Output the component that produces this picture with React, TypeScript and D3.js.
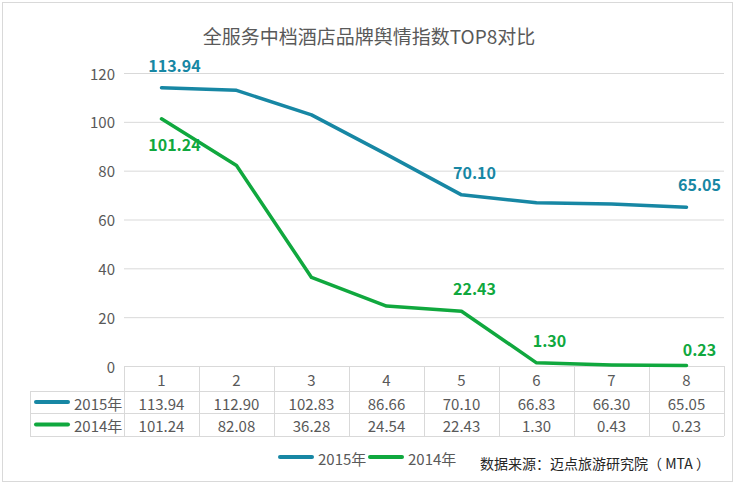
import React from 'react';
import * as d3 from 'd3';

const categories = ['1', '2', '3', '4', '5', '6', '7', '8'];
const series2015 = [113.94, 112.9, 102.83, 86.66, 70.1, 66.83, 66.3, 65.05];
const series2014 = [101.24, 82.08, 36.28, 24.54, 22.43, 1.3, 0.43, 0.23];
const yTicks = [0, 20, 40, 60, 80, 100, 120];
const seriesNames = ['2015年', '2014年'];
const colors = ['#1787a4', '#10a83e'];
// which points get a value label
const labeled2015 = [0, 4, 7];
const labeled2014 = [0, 4, 5, 7];

const W = 737;
const H = 485;
const FONT = '"Noto Sans CJK SC", "Microsoft YaHei", sans-serif';

const App = () => {
  const x = d3.scaleBand().domain(categories).range([124, 724]);
  const y = d3.scaleLinear().domain([0, 120]).range([366, 73]);
  const cx = (i) => x(categories[i]) + x.bandwidth() / 2;

  const line = d3.line<number>()
    .x((_, i) => cx(i))
    .y(d => y(d));

  const rowTop = [366, 391, 413, 436];
  const allSeries = [series2015, series2014];

  const labelY = (v, i, series) => {
    if (series === 1 && i === 0) return y(v) + 25;
    if (series === 1 && i === 7) return y(v) - 16;
    return y(v) - 23;
  };

  return (
    <svg width={W} height={H} style={{ position: 'fixed', left: 0, top: 0, fontFamily: FONT }}>
      <rect x={2.5} y={2.5} width={730} height={479} fill="#fff" stroke="#d9d9d9" />
      <text x={369} y={35} textAnchor="middle" dominantBaseline="central" fontSize={19} fill="#595959">
        全服务中档酒店品牌舆情指数TOP8对比
      </text>

      {/* grid + y axis labels */}
      {yTicks.map(t => (
        <g key={t}>
          {t > 0 && <line x1={124} x2={724} y1={y(t) + 0.5} y2={y(t) + 0.5} stroke="#d9d9d9" />}
          <text x={115} y={y(t)} textAnchor="end" dominantBaseline="central" fontSize={15} fill="#595959">
            {t}
          </text>
        </g>
      ))}

      {/* data table */}
      <g stroke="#d9d9d9" fill="none">
        <line x1={124} x2={724} y1={rowTop[0] + 0.5} y2={rowTop[0] + 0.5} />
        <line x1={30} x2={724} y1={rowTop[1] + 0.5} y2={rowTop[1] + 0.5} />
        <line x1={30} x2={724} y1={rowTop[2] + 0.5} y2={rowTop[2] + 0.5} />
        <line x1={30} x2={724} y1={rowTop[3] + 0.5} y2={rowTop[3] + 0.5} />
        <line x1={30.5} x2={30.5} y1={rowTop[1]} y2={rowTop[3]} />
        {categories.map(c => (
          <line key={c} x1={x(c) + 0.5} x2={x(c) + 0.5} y1={rowTop[0]} y2={rowTop[3]} />
        ))}
        <line x1={724.5} x2={724.5} y1={rowTop[0]} y2={rowTop[3]} />
      </g>
      {categories.map((c, i) => (
        <text key={c} x={cx(i)} y={(rowTop[0] + rowTop[1]) / 2 + 1} textAnchor="middle" dominantBaseline="central" fontSize={15} fill="#595959">
          {c}
        </text>
      ))}
      {allSeries.map((s, si) => (
        <g key={si}>
          <line x1={36} x2={68} y1={(rowTop[si + 1] + rowTop[si + 2]) / 2} y2={(rowTop[si + 1] + rowTop[si + 2]) / 2}
            stroke={colors[si]} strokeWidth={4} strokeLinecap="round" />
          <text x={74} y={(rowTop[si + 1] + rowTop[si + 2]) / 2 + 1} dominantBaseline="central" fontSize={15} fill="#595959">
            {seriesNames[si]}
          </text>
          {s.map((v, i) => (
            <text key={i} x={cx(i)} y={(rowTop[si + 1] + rowTop[si + 2]) / 2 + 1} textAnchor="middle" dominantBaseline="central" fontSize={15} fill="#595959">
              {v.toFixed(2)}
            </text>
          ))}
        </g>
      ))}

      {/* lines */}
      {allSeries.map((s, si) => (
        <path key={si} d={line(s)} fill="none" stroke={colors[si]} strokeWidth={3.5} strokeLinejoin="round" strokeLinecap="round" />
      ))}

      {/* value labels */}
      {[labeled2015, labeled2014].map((idx, si) =>
        idx.map(i => (
          <text key={`${si}-${i}`} x={cx(i) + 13} y={labelY(allSeries[si][i], i, si)} textAnchor="middle" dominantBaseline="central"
            fontSize={16} fontWeight="bold" fill={colors[si]}>
            {allSeries[si][i].toFixed(2)}
          </text>
        ))
      )}

      {/* legend */}
      {seriesNames.map((n, si) => (
        <g key={n} transform={`translate(${279 + si * 90},457)`}>
          <line x1={1} x2={33} y1={0} y2={0} stroke={colors[si]} strokeWidth={4} strokeLinecap="round" />
          <text x={39} y={1} dominantBaseline="central" fontSize={15} fill="#595959">{n}</text>
        </g>
      ))}
      <text x={480} y={463} dominantBaseline="central" fontSize={14} fill="#262626">
        数据来源：迈点旅游研究院（ MTA ）
      </text>
    </svg>
  );
};

export default App;
